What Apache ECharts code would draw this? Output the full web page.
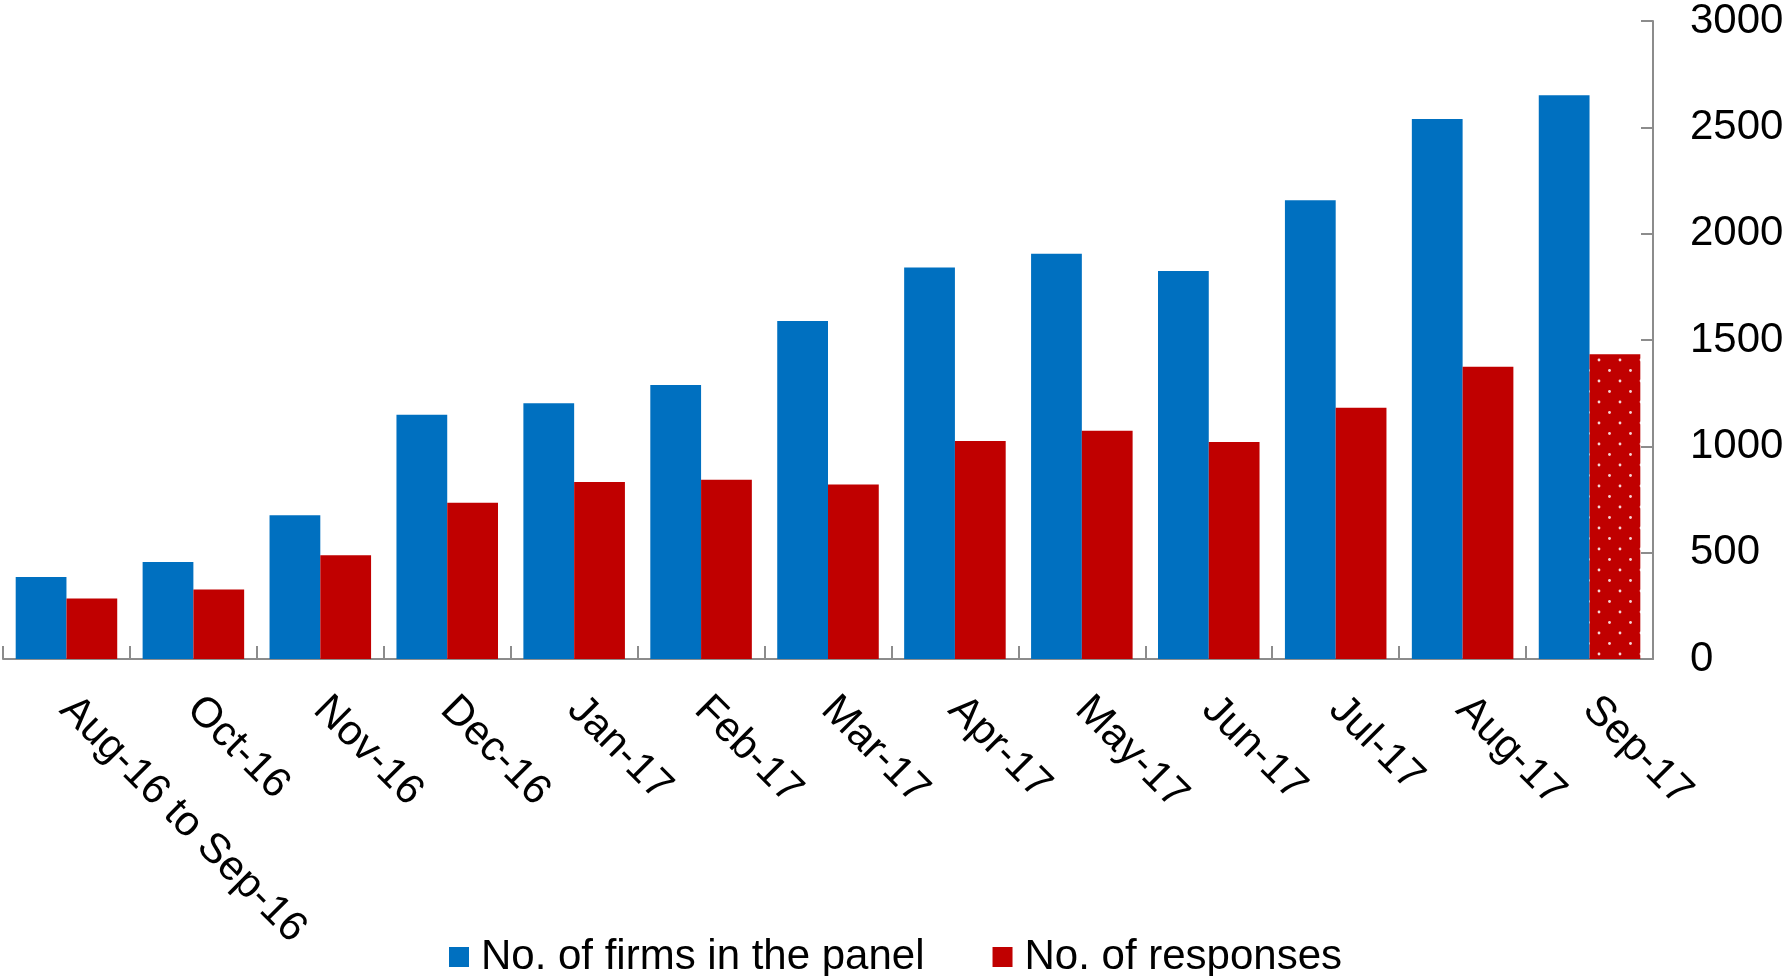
<!DOCTYPE html>
<html>
<head>
<meta charset="utf-8">
<script src="https://cdn.jsdelivr.net/npm/echarts@6/dist/echarts.min.js"></script>
<style>
html,body{margin:0;padding:0;background:#fff;}
#chart{width:1791px;height:976px;}
</style>
</head>
<body>
<div id="chart"></div>
<script>
const categories = ['Aug-16 to Sep-16','Oct-16','Nov-16','Dec-16','Jan-17','Feb-17','Mar-17','Apr-17','May-17','Jun-17','Jul-17','Aug-17','Sep-17'];
const firms = [386, 456, 676, 1149, 1202, 1288, 1589, 1841, 1905, 1825, 2157, 2539, 2651];
const responses = [284, 327, 488, 735, 832, 843, 821, 1025, 1073, 1020, 1181, 1374, 1433];
const yTicks = [0, 500, 1000, 1500, 2000, 2500, 3000];
const seriesNames = ['No. of firms in the panel', 'No. of responses'];
const provisionalIndex = 12; // last responses bar drawn dotted

const BLUE = '#0070C0', RED = '#C00000';
const FONT = "'Liberation Sans', Arial, sans-serif";

// dotted pattern tile
const tile = document.createElement('canvas');
tile.width = 21; tile.height = 21;
const tctx = tile.getContext('2d');
tctx.fillStyle = RED; tctx.fillRect(0, 0, 21, 21);
tctx.fillStyle = '#f6d6d6';
[[3, 3], [13.5, 13.5]].forEach(p => { tctx.beginPath(); tctx.arc(p[0], p[1], 1.4, 0, Math.PI * 2); tctx.fill(); });

const respData = responses.map((v, i) => i === provisionalIndex
  ? { value: v, itemStyle: { color: { image: tile, repeat: 'repeat' } } }
  : v);

const chart = echarts.init(document.getElementById('chart'), null, { renderer: 'canvas' });
chart.setOption({
  animation: false,
  backgroundColor: '#fff',
  textStyle: { fontFamily: FONT },
  grid: { left: 3, right: 138, top: 20.5, bottom: 317, containLabel: false },
  legend: {
    data: seriesNames,
    left: 'center',
    top: 931,
    itemWidth: 20, itemHeight: 20, itemGap: 68,
    icon: 'rect',
    textStyle: { fontSize: 42, color: '#000', fontFamily: FONT, padding: [0, 0, 0, 7] },
    selectedMode: false
  },
  xAxis: {
    type: 'category',
    data: categories,
    axisLine: { show: true, lineStyle: { color: '#8c8c8c', width: 2 } },
    axisTick: { show: true, inside: true, length: 13, lineStyle: { color: '#8c8c8c', width: 2 } },
    axisLabel: { rotate: -45, margin: 44, fontSize: 42, color: '#000', fontFamily: FONT, interval: 0 },
    splitLine: { show: false }
  },
  yAxis: {
    type: 'value',
    position: 'right',
    min: 0, max: 3000, interval: 500,
    axisLine: { show: true, lineStyle: { color: '#8c8c8c', width: 2 } },
    axisTick: { show: true, inside: true, length: 12, lineStyle: { color: '#8c8c8c', width: 2 } },
    axisLabel: { margin: 37, fontSize: 42, color: '#000', fontFamily: FONT,
      formatter: v => yTicks.includes(v) ? String(v) : '' },
    splitLine: { show: false }
  },
  series: [
    { name: seriesNames[0], type: 'bar', data: firms, itemStyle: { color: BLUE },
      barGap: '0%', barCategoryGap: '20%' },
    { name: seriesNames[1], type: 'bar', data: respData, itemStyle: { color: RED },
      barGap: '0%', barCategoryGap: '20%' }
  ]
});
</script>
</body>
</html>
